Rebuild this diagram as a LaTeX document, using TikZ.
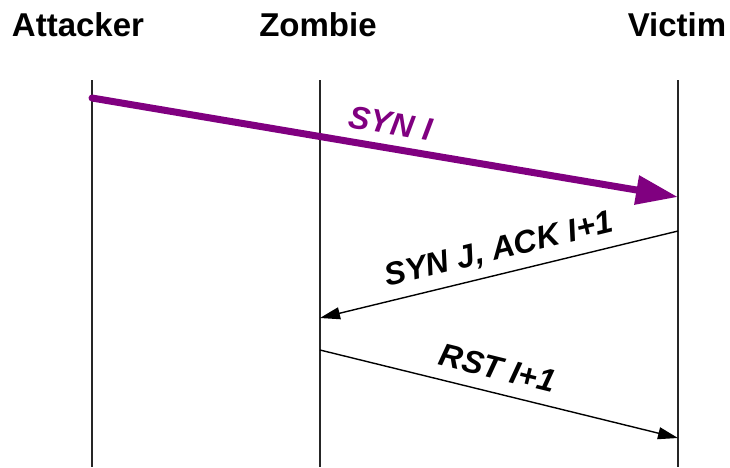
\documentclass[tikz,border=0pt]{standalone}
\usepackage{fontspec}
\setmainfont{Liberation Sans}
\usetikzlibrary{arrows.meta}
\definecolor{synpurple}{HTML}{800080}
\begin{document}
\begin{tikzpicture}[x=1pt,y=-1pt,
  actor/.style={font=\bfseries\fontsize{33}{36}\selectfont, anchor=base, inner sep=0pt},
  lifeline/.style={line width=2pt, black!85},
  msglabel/.style={font=\bfseries\itshape\fontsize{32}{36}\selectfont, anchor=base, inner sep=0pt},
  msg/.style={line width=1.4pt, -{Triangle[length=20pt,width=12pt]}},
  bigmsg/.style={line width=7pt, synpurple, line cap=round, -{Triangle[length=42pt,width=28pt]}}
]
\useasboundingbox (0,0) rectangle (730,467);

% actor names
\node[actor] (attacker) at (78,36) {Attacker};
\node[actor] (zombie) at (318,36) {Zombie};
\node[actor] (victim) at (677,36) {Victim};

% lifelines
\coordinate (aTop) at (92,80);  \coordinate (aBot) at (92,467);
\coordinate (zTop) at (320,80); \coordinate (zBot) at (320,467);
\coordinate (vTop) at (678,80); \coordinate (vBot) at (678,467);
\draw[lifeline] (aTop) -- (aBot);
\draw[lifeline] (zTop) -- (zBot);
\draw[lifeline] (vTop) -- (vBot);

% message end points on the lifelines
\coordinate (synFrom) at (92,98);   \coordinate (synTo) at (678,197);
\coordinate (ackFrom) at (678,231); \coordinate (ackTo) at (320,318);
\coordinate (rstFrom) at (320,350); \coordinate (rstTo) at (678,438);

% messages
\draw[bigmsg] (synFrom) -- (synTo);
\draw[msg] (ackFrom) -- (ackTo);
\draw[msg] (rstFrom) -- (rstTo);

% message labels
\node[msglabel, text=synpurple, rotate=-9.6] (synlabel) at (389,134) {SYN I};
\node[msglabel, rotate=13.7] (acklabel) at (501,259) {SYN J, ACK I+1};
\node[msglabel, rotate=-13.8] (rstlabel) at (495,379) {RST I+1};
\end{tikzpicture}
\end{document}
